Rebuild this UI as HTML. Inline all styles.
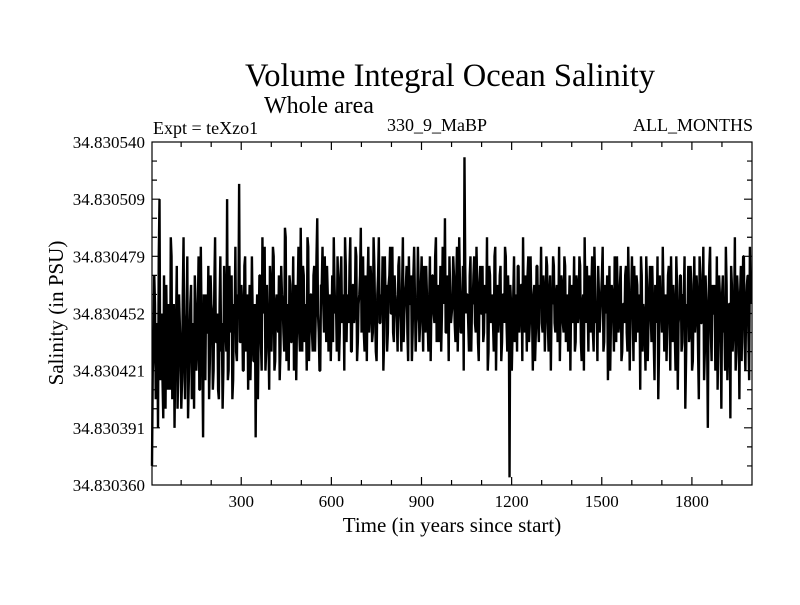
<!DOCTYPE html>
<html><head><meta charset="utf-8"><style>
body{margin:0;background:#fff;}
svg text{font-family:"Liberation Serif",serif;fill:#000;}
</style></head><body>
<svg id="chart" width="800" height="600" xmlns="http://www.w3.org/2000/svg">
<rect width="800" height="600" fill="#fff"/>
<text x="450" y="86" font-size="32.5" text-anchor="middle">Volume Integral Ocean Salinity</text>
<text x="319" y="113" font-size="24" text-anchor="middle">Whole area</text>
<text x="153" y="134" font-size="18">Expt = teXzo1</text>
<text x="437" y="131" font-size="18" text-anchor="middle">330_9_MaBP</text>
<text x="753" y="131" font-size="18" text-anchor="end">ALL_MONTHS</text>
<text x="452" y="532" font-size="21" text-anchor="middle">Time (in years since start)</text>
<text x="0" y="0" font-size="21" text-anchor="middle" transform="translate(63,313) rotate(-90)">Salinity (in PSU)</text>
<g id="marks"></g>
<g id="axes"></g>
</svg>
<script>
const xTicks=[300,600,900,1200,1500,1800];
const yTickLabels=["34.830360","34.830391","34.830421","34.830452","34.830479","34.830509","34.830540"];
const startYear=3, stepYears=5;
// salinity anomaly in 1e-6 PSU above 34.830360, every 5 years (even samples)
const salinityOffsets=[
10,70,95,60,30,150,80,55,110,40,75,95,50,120,65,30,85,40,100,70,
55,130,45,90,35,75,105,60,40,95,70,120,50,85,25,65,100,80,45,110,
90,60,130,75,50,95,70,40,115,80,150,60,90,110,55,85,70,100,158,75,
95,60,120,85,50,105,75,90,65,25,100,80,110,60,95,125,70,85,50,105,
90,120,65,100,80,55,115,95,70,130,85,60,105,75,120,90,55,100,80,135,
70,110,95,60,125,85,100,70,115,90,140,80,60,105,95,120,75,100,85,65,
110,130,90,70,105,80,120,95,60,115,100,85,130,70,105,90,120,75,100,135,
95,80,110,65,125,90,105,80,115,70,100,130,85,95,60,120,105,80,110,90,
125,75,100,85,115,95,70,130,90,105,80,120,95,65,110,100,85,125,75,105,
90,115,80,100,70,120,95,110,85,130,100,75,115,90,105,140,80,100,120,85,
95,110,75,125,90,105,80,115,172,90,100,70,120,95,110,85,125,75,105,90,
115,80,100,130,70,110,95,85,120,60,105,90,115,75,100,125,85,110,4,95,
80,120,100,70,115,90,105,130,80,95,110,75,120,90,100,65,115,85,105,125,
80,100,90,115,70,110,95,120,85,100,75,125,90,105,80,115,95,70,110,100,
85,120,75,105,90,115,65,100,130,85,95,110,80,120,70,105,90,115,80,100,
125,75,95,110,85,60,105,90,120,75,100,85,115,70,95,110,80,125,60,100,
90,115,75,105,85,50,110,95,80,120,65,100,90,115,75,105,85,45,110,95,
125,70,100,85,115,60,95,105,80,120,50,90,110,75,100,40,95,115,80,105,
65,120,90,100,45,110,85,125,70,95,30,115,80,105,90,60,120,75,100,40,
110,85,125,55,95,35,105,80,130,70,100,45,115,90,120,60,105,80,125,95
];
// intermediate samples (years offset by 2.5)
const salinityOffsetsMid=[
60,110,45,85,120,55,90,35,65,105,50,80,130,45,95,70,115,60,85,40,
100,65,80,120,55,95,45,85,110,60,90,50,125,70,100,55,80,115,65,95,
50,105,75,90,45,120,85,60,100,70,55,115,80,45,95,125,65,90,75,105,
60,115,70,100,85,55,120,65,95,80,45,110,75,130,90,60,105,80,115,70,
125,60,95,85,110,70,100,80,135,65,95,110,75,90,60,105,85,125,70,95,
115,75,90,130,65,100,80,110,70,120,90,60,105,125,80,95,115,70,100,85,
75,105,95,120,65,110,85,100,130,75,90,115,70,105,85,125,65,95,110,80,
120,70,95,105,80,115,75,130,90,65,110,85,100,120,75,95,70,105,125,90,
80,110,95,70,120,85,105,75,100,115,65,95,110,80,125,70,90,105,85,120,
70,100,115,85,95,65,110,90,120,75,105,85,70,125,95,80,110,65,100,90,
120,85,105,70,130,80,95,60,115,100,85,110,70,95,120,80,105,65,115,90,
75,105,90,60,115,85,100,70,125,90,80,110,65,100,85,120,70,95,105,60,
100,75,95,115,80,105,65,90,110,70,120,85,95,60,105,80,115,75,95,85,
110,70,120,85,100,60,95,115,80,105,90,65,110,85,120,75,100,90,60,105,
95,70,110,85,120,75,95,60,100,115,70,90,105,80,125,85,65,100,90,110,
70,105,90,55,115,85,100,70,95,120,80,105,65,95,85,115,70,100,90,120,
65,95,110,80,100,120,70,90,60,105,85,115,75,95,55,100,120,70,90,80,
100,85,65,110,90,120,75,95,60,105,85,110,70,100,120,65,90,75,115,60,
95,80,110,70,120,85,100,55,110,80,95,125,65,90,105,75,50,110,85,100,
80,60,105,75,95,115,70,90,60,110,85,100,65,120,75,95,110,55,100,85
];
const X0=152,X1=752,Y0=142,Y1=485,XMIN=3,XMAX=2000,YMIN=0,YMAX=180;
function xScale(yr){return X0+(yr-XMIN)/(XMAX-XMIN)*(X1-X0);}
function yScale(off){return Y1-(off-YMIN)/(YMAX-YMIN)*(Y1-Y0);}
const NS="http://www.w3.org/2000/svg";
const marks=document.getElementById('marks');
const pts=[];
salinityOffsets.forEach((v,i)=>{
  pts.push([startYear+i*stepYears,v]);
  if(i<salinityOffsetsMid.length && i<salinityOffsets.length-1) pts.push([startYear+i*stepYears+stepYears/2,salinityOffsetsMid[i]]);
});
let d="";
pts.forEach((p,i)=>{d+=(i?"L":"M")+xScale(p[0]).toFixed(2)+","+yScale(p[1]).toFixed(2);});
const line=document.createElementNS(NS,'path');


line.setAttribute('d',d);line.setAttribute('fill','none');line.setAttribute('stroke','#000');line.setAttribute('stroke-width','2.4');line.setAttribute('stroke-linejoin','bevel');
marks.appendChild(line);
const axes=document.getElementById('axes');
const frame=document.createElementNS(NS,'rect');


frame.setAttribute('x',X0);frame.setAttribute('y',Y0);frame.setAttribute('width',X1-X0);frame.setAttribute('height',Y1-Y0);
frame.setAttribute('fill','none');frame.setAttribute('stroke','#000');frame.setAttribute('stroke-width','1.2');
axes.appendChild(frame);
let td="";
for(let yr=100;yr<2000;yr+=100){const x=xScale(yr).toFixed(2);const L=(yr%300===0)?8:5;
  td+="M"+x+" "+Y1+" L"+x+" "+(Y1-L)+" M"+x+" "+Y0+" L"+x+" "+(Y0+L)+" ";}
for(let k=1;k<18;k++){const y=(Y1-k*(Y1-Y0)/18).toFixed(2);const L=(k%3===0)?8:5;
  td+="M"+X0+" "+y+" L"+(X0+L)+" "+y+" M"+X1+" "+y+" L"+(X1-L)+" "+y+" ";}
const ticks=document.createElementNS(NS,'path');


ticks.setAttribute('d',td);ticks.setAttribute('fill','none');ticks.setAttribute('stroke','#000');ticks.setAttribute('stroke-width','1.2');
axes.appendChild(ticks);
xTicks.forEach(t=>{const tx=document.createElementNS(NS,'text');


tx.setAttribute('x',xScale(t));tx.setAttribute('y',507);tx.setAttribute('font-size','17');tx.setAttribute('text-anchor','middle');tx.textContent=t;axes.appendChild(tx);});
yTickLabels.forEach((t,k)=>{const tx=document.createElementNS(NS,'text');


tx.setAttribute('x',145);tx.setAttribute('y',Y1-k*(Y1-Y0)/6+6);tx.setAttribute('font-size','17');tx.setAttribute('text-anchor','end');tx.textContent=t;axes.appendChild(tx);});
</script>
</body></html>
